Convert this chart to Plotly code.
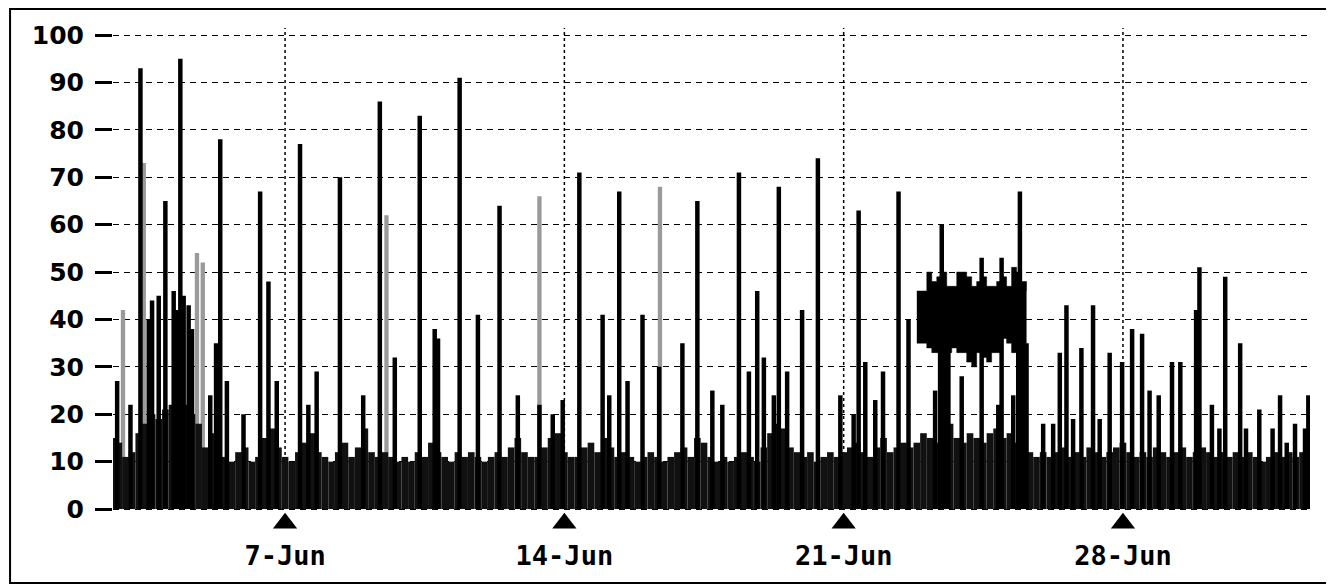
import pandas as pd
import plotly.graph_objects as go

# ---------------- data ----------------
# background level, one value every 4 hours starting 2023-06-02 16:00
base_start = "2023-06-02 16:00"
base_values = [
    15, 14, 11, 12, 16, 18, 20, 19, 21, 22,
    24, 22, 20, 18, 13, 16, 14, 11, 10, 12,
    13, 10, 11, 15, 17, 13, 11, 10, 12, 14,
    16, 12, 11, 10, 12, 14, 11, 13, 17, 12,
    11, 12, 11, 10, 11, 10, 12, 11, 14, 12,
    11, 10, 12, 11, 12, 11, 10, 11, 12, 11,
    13, 15, 12, 11, 11, 13, 15, 16, 12, 11,
    11, 13, 14, 12, 15, 13, 11, 12, 11, 10,
    11, 12, 11, 10, 11, 12, 13, 11, 15, 14,
    11, 10, 11, 10, 11, 12, 11, 10, 13, 16,
    18, 17, 13, 12, 11, 12, 10, 11, 12, 11,
    12, 13, 14, 12, 11, 13, 15, 12, 13, 14,
    13, 14, 16, 15, 14, 16, 18, 15, 14, 16,
    15, 14, 16, 17, 15, 16, 14, 13, 12, 11,
    12, 11, 12, 13, 11, 12, 11, 13, 12, 11,
    12, 13, 14, 12, 11, 12, 11, 13, 12, 11,
    12, 13, 11, 12, 13, 12, 11, 12, 11, 12,
    11, 12, 11, 10, 11, 12, 11, 12, 11, 12, 11,
]

# sustained high period (every 3 hours from 2023-06-22 20:00)
band_start = "2023-06-22 20:00"
band_upper = [46, 46, 50, 48, 49, 50, 47, 47, 50, 50, 49, 47,
              48, 49, 47, 47, 48, 49, 47, 51, 50, 48, 46]
band_lower = [35, 35, 34, 33, 33, 34, 33, 34, 33, 33, 31, 30,
              33, 32, 31, 33, 33, 36, 35, 33, 34, 35, 35]

# peaks
peak_times = [
    "2023-06-02 19:00", "2023-06-03 09:00", "2023-06-03 16:00", "2023-06-03 20:00",
    "2023-06-04 00:00", "2023-06-04 05:00", "2023-06-04 09:00", "2023-06-04 14:00",
    "2023-06-05 06:30", "2023-06-05 09:00", "2023-06-05 13:00", "2023-06-05 23:00",
    "2023-06-06 09:00", "2023-06-06 14:00", "2023-06-06 19:00", "2023-06-07 09:00",
    "2023-06-07 14:00", "2023-06-07 19:00", "2023-06-08 09:00", "2023-06-08 23:00",
    "2023-06-09 09:00", "2023-06-09 18:00", "2023-06-10 09:00", "2023-06-10 18:00",
    "2023-06-10 20:00", "2023-06-11 09:00", "2023-06-11 20:00", "2023-06-12 09:00",
    "2023-06-12 20:00", "2023-06-13 09:00", "2023-06-13 17:00", "2023-06-13 23:00",
    "2023-06-14 09:00", "2023-06-14 23:00", "2023-06-15 03:00", "2023-06-15 09:00",
    "2023-06-15 14:00", "2023-06-15 23:00", "2023-06-16 09:00", "2023-06-16 23:00",
    "2023-06-17 08:00", "2023-06-17 17:00", "2023-06-17 23:00", "2023-06-18 09:00",
    "2023-06-18 15:00", "2023-06-18 20:00", "2023-06-19 00:00", "2023-06-19 06:00",
    "2023-06-19 09:00", "2023-06-19 14:00", "2023-06-19 23:00", "2023-06-20 08:30",
    "2023-06-20 22:00", "2023-06-21 06:00", "2023-06-21 09:00", "2023-06-21 13:00",
    "2023-06-21 19:00", "2023-06-21 23:40", "2023-06-22 09:00", "2023-06-22 15:00",
    "2023-06-23 07:00", "2023-06-23 10:00", "2023-06-23 11:00", "2023-06-23 13:00",
    "2023-06-23 15:00", "2023-06-23 23:00", "2023-06-24 11:00", "2023-06-24 21:00",
    "2023-06-24 23:00", "2023-06-25 06:00", "2023-06-25 09:00", "2023-06-25 10:00",
    "2023-06-25 12:00", "2023-06-25 14:00", "2023-06-26 00:00", "2023-06-26 06:00",
    "2023-06-26 10:00", "2023-06-26 14:00", "2023-06-26 18:00", "2023-06-26 23:00",
    "2023-06-27 06:00", "2023-06-27 10:00", "2023-06-27 16:00", "2023-06-27 23:30",
    "2023-06-28 05:30", "2023-06-28 11:30", "2023-06-28 16:00", "2023-06-28 21:30",
    "2023-06-29 05:30", "2023-06-29 10:30", "2023-06-29 20:00", "2023-06-29 22:00",
    "2023-06-30 05:30", "2023-06-30 10:00", "2023-06-30 13:30", "2023-06-30 22:30",
    "2023-07-01 02:00", "2023-07-01 10:00", "2023-07-01 18:00", "2023-07-01 22:30",
    "2023-07-02 02:30", "2023-07-02 07:30", "2023-07-02 13:30", "2023-07-02 15:30",
    "2023-06-03 14:00", "2023-06-04 07:00", "2023-06-04 11:00", "2023-06-04 16:00",
    "2023-06-03 03:00", "2023-06-05 03:00",
]
peak_values = [
    27, 93, 44, 45,
    65, 46, 95, 43,
    35, 78, 27, 20,
    67, 48, 27, 77,
    22, 29, 70, 24,
    86, 32, 83, 38,
    36, 91, 41, 64,
    24, 22, 20, 23,
    71, 41, 24, 67,
    27, 41, 30, 35,
    65, 25, 22, 71,
    29, 46, 32, 24,
    68, 29, 42, 74,
    24, 20, 63, 31,
    23, 29, 67, 40,
    25, 35, 60, 35,
    34, 28, 53, 22,
    53, 24, 36, 67,
    36, 35, 18, 18,
    33, 43, 19, 34,
    43, 19, 33, 31,
    38, 37, 25, 24,
    31, 31, 42, 51,
    22, 17, 49, 35,
    17, 21, 17, 24,
    14, 18, 17, 24,
    40, 42, 45, 38,
    22, 24,
]

# fainter (lighter) peaks
faint_times = ["2023-06-02 22:30", "2023-06-04 19:00", "2023-06-04 22:30",
               "2023-06-09 13:00", "2023-06-13 09:00", "2023-06-16 09:30",
               "2023-06-03 11:00"]
faint_values = [42, 54, 52, 62, 66, 68, 73]

tick_dates = ["2023-06-07", "2023-06-14", "2023-06-21", "2023-06-28"]
tick_labels = ["7-Jun", "14-Jun", "21-Jun", "28-Jun"]

y_ticks = [0, 10, 20, 30, 40, 50, 60, 70, 80, 90, 100]
y_top = 101.5
y_bottom = -5.9

# ---------------- figure ----------------
HOUR_MS = 3600 * 1000
base_x = pd.date_range(base_start, periods=len(base_values), freq="4h")
band_x = pd.date_range(band_start, periods=len(band_upper), freq="3h")

fig = go.Figure()

fig.add_trace(go.Bar(x=pd.to_datetime(faint_times), y=faint_values,
                     width=2.6 * HOUR_MS, marker=dict(color="#9a9a9a", line_width=0),
                     hoverinfo="skip"))
fig.add_trace(go.Bar(x=base_x, y=base_values, width=4 * HOUR_MS,
                     marker=dict(color="#111111", line_width=0), hoverinfo="skip"))
fig.add_trace(go.Scatter(x=band_x, y=band_lower, mode="lines",
                         line=dict(color="black", width=0.5, shape="hv"),
                         hoverinfo="skip"))
fig.add_trace(go.Scatter(x=band_x, y=band_upper, mode="lines", fill="tonexty",
                         fillcolor="black",
                         line=dict(color="black", width=0.5, shape="hv"),
                         hoverinfo="skip"))
fig.add_trace(go.Bar(x=pd.to_datetime(peak_times), y=peak_values,
                     width=2.7 * HOUR_MS, marker=dict(color="black", line_width=0),
                     hoverinfo="skip"))
fig.add_trace(go.Scatter(x=pd.to_datetime(tick_dates), y=[-3.0] * len(tick_dates),
                         mode="markers",
                         marker=dict(symbol="triangle-up", size=21, color="black"),
                         hoverinfo="skip"))

y_font = dict(family="DejaVu Sans", size=25, color="black", weight="bold")
x_font = dict(family="DejaVu Sans Mono", size=27, color="black", weight="bold")

# dotted vertical grid lines at the labelled days (from 0 to the top)
shapes = [
    dict(type="line", xref="x", yref="y", x0=d, x1=d, y0=0, y1=y_top,
         layer="below", line=dict(color="black", width=1.5, dash="dot"))
    for d in tick_dates
]

plot_h = 577 - 20 - 48
shapes.append(dict(type="rect", xref="paper", yref="paper",
                   x0=-0.086, x1=1.0175,
                   y0=-(575 - (20 + plot_h)) / plot_h, y1=(plot_h + 19) / plot_h,
                   line=dict(color="black", width=2), fillcolor="rgba(0,0,0,0)",
                   layer="above"))

fig.update_layout(
    width=1326, height=577,
    margin=dict(l=105, r=24, t=20, b=48),
    paper_bgcolor="white", plot_bgcolor="white",
    barmode="overlay", showlegend=False,
    xaxis=dict(
        type="date",
        range=["2023-06-02 16:30", "2023-07-02 16:30"],
        tickvals=pd.to_datetime(tick_dates), ticktext=tick_labels,
        tickfont=x_font, ticks="", ticklabelstandoff=0,
        showgrid=False, showline=False, zeroline=False,
    ),
    yaxis=dict(
        range=[y_bottom, y_top],
        tickvals=y_ticks, ticktext=[str(v) for v in y_ticks],
        tickfont=y_font, ticks="outside", ticklen=17, tickwidth=3,
        tickcolor="black", ticklabelstandoff=6,
        showgrid=True, gridcolor="black", gridwidth=1.3, griddash="6px,5px",
        showline=False, zeroline=False,
    ),
    shapes=shapes,
)

fig.write_html("out.html")
